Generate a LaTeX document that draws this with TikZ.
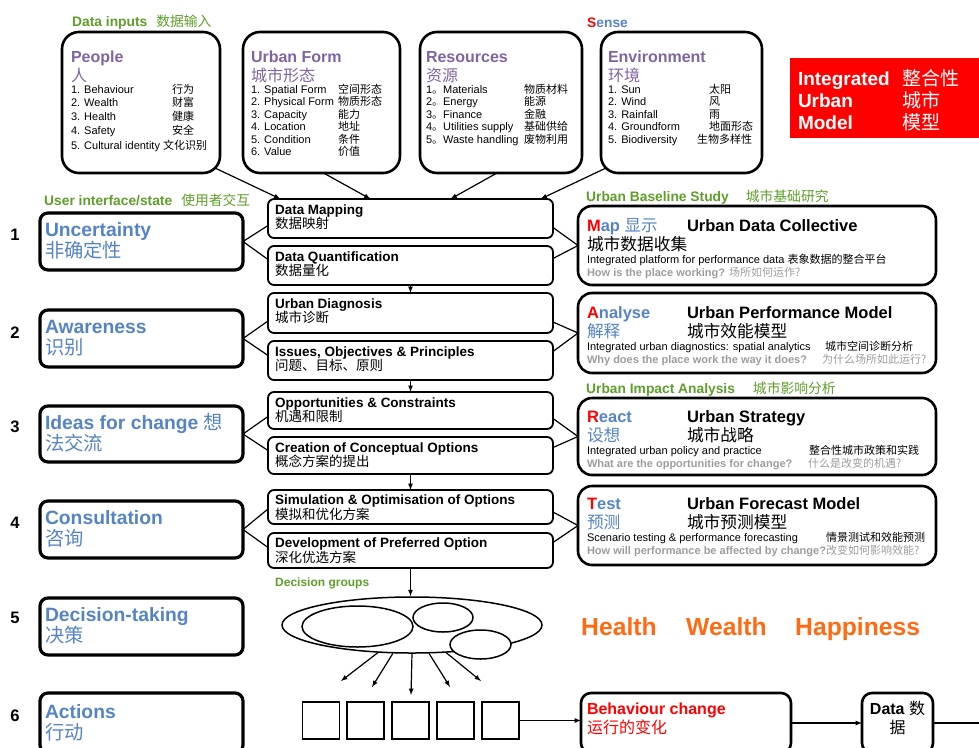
\documentclass[tikz,border=0pt]{standalone}
\usepackage{fontspec}
\setmainfont{Liberation Sans}
\newfontfamily\cjk{Noto Sans CJK SC}
\usetikzlibrary{shapes.geometric}
\definecolor{ttlpurple}{HTML}{8064A2}
\definecolor{uiblue}{HTML}{5584C4}
\definecolor{lblgreen}{HTML}{5E9E2A}
\definecolor{hotred}{HTML}{FF0000}
\definecolor{hhorange}{HTML}{FF6A13}
\definecolor{qgrey}{HTML}{9C9C9C}
\newcommand{\zh}[1]{{\cjk\mdseries #1}}
\newcommand{\fsz}[2]{\fontsize{#1}{#2}\selectfont}
\newcommand{\row}[3]{\makebox[#1][l]{#2}\zh{#3}}
\newcommand{\inbody}[3]{\parbox[c][#2][t]{#1}{\raggedright #3}}
\tikzset{
    inbox/.style={draw, rectangle, rounded corners=17pt, line width=2.6pt, anchor=north west,
    inner ysep=0pt, outer sep=0pt
  },
  uibox/.style={
    draw, rectangle, rounded corners=8pt, line width=3.2pt, anchor=north west, inner xsep=5pt,
    inner ysep=0pt, outer sep=0pt, minimum width=203pt
  },
  stepbox/.style={
    draw, rectangle, rounded corners=6pt, line width=1.8pt, anchor=north west, inner xsep=7pt,
    inner ysep=0pt, outer sep=0pt, minimum width=285pt
  },
  modbox/.style={
    draw, rectangle, rounded corners=14pt, line width=2.6pt, anchor=north west, inner xsep=9pt,
    inner ysep=0pt, outer sep=0pt, minimum width=358pt
  },
  endbox/.style={
    draw, rectangle, rounded corners=10pt, line width=2.6pt, anchor=north west, inner ysep=0pt,
    outer sep=0pt
  },
  tagbox/.style={
    fill=hotred, rectangle, anchor=north west, inner xsep=8pt, inner ysep=0pt, outer sep=0pt,
    minimum width=200pt
  },
  heading/.style={anchor=base west, inner sep=0pt, font=\fsz{13.8}{16}\bfseries, text=lblgreen},
  stepno/.style={anchor=base, inner sep=0pt, font=\fsz{16.6}{18}\bfseries},
  outcome/.style={anchor=base west, inner sep=0pt, font=\fsz{24.7}{28}\bfseries, text=hhorange},
  ring/.style={draw, ellipse, line width=1.5pt, inner sep=0pt},
  action/.style={draw, rectangle, line width=1.5pt, minimum size=37pt, inner sep=0pt},
  link/.style={line width=1.2pt},
  conn/.style={-latex, line width=1.2pt}
}

\begin{document}
\begin{tikzpicture}[x=1pt, y=-1pt]
   \useasboundingbox (0,0) rectangle (979,747);
   \clip (0,0) rectangle (979,747);

   \node[heading] (inputs) at (72,26.7) {Data inputs\hspace{9pt}\zh{数据输入}};
   \node[heading] (sense) at (587,27) {\color{hotred}S\color{uiblue}ense};

   \node[inbox, minimum width=158pt, inner xsep=9pt] (people) at (62,32) {\inbody{140pt}{141pt}{%
      \fsz{16}{18}\bfseries\color{ttlpurple}\rule{0pt}{30.7pt}People\\
      \fsz{16}{18.3}\zh{人}\\
      \fsz{11}{12.2}\mdseries\color{black}\row{101pt}{1. Behaviour}{行为}\\
      \fsz{11}{13.6}\row{101pt}{2. Wealth}{财富}\\
      \row{101pt}{3. Health}{健康}\\
      \row{101pt}{4. Safety}{安全}\\
      \fsz{11}{15.6}5. Cultural identity \zh{文化识别}}};
   \node[inbox, minimum width=157pt, inner xsep=8pt] (form) at (243,32) {\inbody{141pt}{141pt}{%
      \fsz{16}{18}\bfseries\color{ttlpurple}\rule{0pt}{30.7pt}Urban Form\\
      \fsz{16}{18.3}\zh{城市形态}\\
      \fsz{11}{12.2}\mdseries\color{black}\row{87pt}{1. Spatial Form}{空间形态}\\
      \fsz{11}{12.5}\row{87pt}{2. Physical Form}{物质形态}\\
      \row{87pt}{3. Capacity}{能力}\\
      \row{87pt}{4. Location}{地址}\\
      \row{87pt}{5. Condition}{条件}\\
      \row{87pt}{6. Value}{价值}}};
   \node[inbox, minimum width=162pt, inner xsep=6pt] (res) at (420,32) {\inbody{150pt}{141pt}{%
      \fsz{16}{18}\bfseries\color{ttlpurple}\rule{0pt}{30.7pt}Resources\\
      \fsz{16}{18.3}\zh{资源}\\
      \fsz{11}{12.2}\mdseries\color{black}\row{98pt}{1\zh{。}Materials}{物质材料}\\
      \fsz{11}{12.5}\row{98pt}{2\zh{。}Energy}{能源}\\
      \row{98pt}{3\zh{。}Finance}{金融}\\
      \row{98pt}{4\zh{。}Utilities supply}{基础供给}\\
      \row{98pt}{5\zh{。}Waste handling}{废物利用}}};
   \node[inbox, minimum width=161pt, inner xsep=7pt] (env) at (601,32) {\inbody{147pt}{141pt}{%
      \fsz{16}{18}\bfseries\color{ttlpurple}\rule{0pt}{30.7pt}Environment\\
      \fsz{16}{18.3}\zh{环境}\\
      \fsz{11}{12.2}\mdseries\color{black}\row{101pt}{1. Sun}{太阳}\\
      \fsz{11}{12.5}\row{101pt}{2. Wind}{风}\\
      \row{101pt}{3. Rainfall}{雨}\\
      \row{101pt}{4. Groundform}{地面形态}\\
      \row{89pt}{5. Biodiversity}{生物多样性}}};

   \node[tagbox] (ium) at (790,58) {\inbody{184pt}{80pt}{%
      \fsz{19}{22}\bfseries\color{white}\rule{0pt}{27pt}\row{104pt}{Integrated}{整合性}\\
      \row{104pt}{Urban}{城市}\\
      \row{104pt}{Model}{模型}}};

   \node[heading] (uilbl) at (44,205) {User interface/state\hspace{9pt}\zh{使用者交互}};
   \node[stepno] (n1) at (15,240) {1};
   \node[stepno] (n2) at (15,338) {2};
   \node[stepno] (n3) at (15,432) {3};
   \node[stepno] (n4) at (15,528) {4};
   \node[stepno] (n5) at (15,623) {5};
   \node[stepno] (n6) at (15,721) {6};

   \node[uibox] (unc) at (40,213) {\inbody{193pt}{57pt}{%
      \fsz{19.3}{21}\bfseries\color{uiblue}\rule{0pt}{23.5pt}Uncertainty\\ \zh{非确定性}}};
   \node[uibox] (awr) at (40,310) {\inbody{193pt}{57pt}{%
      \fsz{19.3}{21}\bfseries\color{uiblue}\rule{0pt}{23.5pt}Awareness\\ \zh{识别}}};
   \node[uibox] (idc) at (40,406) {\inbody{193pt}{56pt}{%
      \fsz{19.3}{21}\bfseries\color{uiblue}\rule{0pt}{23.5pt}Ideas for change \zh{想}\\ \zh{法交流}}};
   \node[uibox] (cns) at (40,501) {\inbody{193pt}{57pt}{%
      \fsz{19.3}{21}\bfseries\color{uiblue}\rule{0pt}{23.5pt}Consultation\\ \zh{咨询}}};
   \node[uibox] (dct) at (40,598) {\inbody{193pt}{57pt}{%
      \fsz{19.3}{21}\bfseries\color{uiblue}\rule{0pt}{23.5pt}Decision-taking\\ \zh{决策}}};
   \node[uibox] (act) at (40,693) {\inbody{193pt}{60pt}{%
      \fsz{19.3}{21}\bfseries\color{uiblue}\rule{0pt}{25pt}Actions\\ \zh{行动}}};

   \node[stepbox] (dm) at (268,199) {\inbody{271pt}{39pt}{%
      \fsz{13.5}{14.5}\bfseries\rule{0pt}{15pt}Data Mapping\\ \zh{数据映射}}};
   \node[stepbox] (dq) at (268,246) {\inbody{271pt}{39pt}{%
      \fsz{13.5}{14.5}\bfseries\rule{0pt}{15pt}Data Quantification\\ \zh{数据量化}}};
   \node[stepbox] (ud) at (268,293) {\inbody{271pt}{40pt}{%
      \fsz{13.5}{14.5}\bfseries\rule{0pt}{15pt}Urban Diagnosis\\ \zh{城市诊断}}};
   \node[stepbox] (iop) at (268,341) {\inbody{271pt}{39pt}{%
      \fsz{13.5}{14.5}\bfseries\rule{0pt}{15pt}Issues, Objectives \& Principles\\ \zh{问题、目标、原则}}};
   \node[stepbox] (opc) at (268,392) {\inbody{271pt}{37pt}{%
      \fsz{13.5}{14.5}\bfseries\rule{0pt}{15pt}Opportunities \& Constraints\\ \zh{机遇和限制}}};
   \node[stepbox] (cco) at (268,437) {\inbody{271pt}{37pt}{%
      \fsz{13.5}{14.5}\bfseries\rule{0pt}{15pt}Creation of Conceptual Options\\ \zh{概念方案的提出}}};
   \node[stepbox] (sim) at (268,490) {\inbody{271pt}{34pt}{%
      \fsz{13.5}{14}\bfseries\rule{0pt}{14pt}Simulation \& Optimisation of Options\\ \zh{模拟和优化方案}}};
   \node[stepbox] (dpo) at (268,533) {\inbody{271pt}{35pt}{%
      \fsz{13.5}{14}\bfseries\rule{0pt}{14pt}Development of Preferred Option\\ \zh{深化优选方案}}};

   \node[heading] (ubs) at (586,201) {Urban Baseline Study\hspace{17pt}\zh{城市基础研究}};
   \node[modbox] (map) at (578,206) {\inbody{340pt}{79pt}{%
      \fsz{16.5}{19}\bfseries\rule{0pt}{25pt}\makebox[100pt][l]{\color{hotred}M\color{uiblue}ap \zh{显示}}Urban Data Collective\\
      \fsz{16.7}{19}\zh{城市数据收集}\\
      \fsz{11}{13.5}\mdseries Integrated platform for performance data \zh{表象数据的整合平台}\\
      \fsz{11}{12.5}\bfseries\color{qgrey}How is the place working? \zh{场所如何运作?}}};
   \node[modbox] (ana) at (578,293) {\inbody{340pt}{80pt}{%
      \fsz{16.5}{19}\bfseries\rule{0pt}{25pt}\makebox[100pt][l]{\color{hotred}A\color{uiblue}nalyse}Urban Performance Model\\
      \fsz{16.7}{19}\makebox[100pt][l]{\color{uiblue}\zh{解释}}\zh{城市效能模型}\\
      \fsz{11}{13.5}\mdseries\row{238pt}{Integrated urban diagnostics: spatial analytics}{城市空间诊断分析}\\
      \fsz{11}{12.5}\bfseries\color{qgrey}\row{235pt}{Why does the place work the way it does?}{为什么场所如此运行?}}};
   \node[heading] (uia) at (586,393) {Urban Impact Analysis\hspace{18pt}\zh{城市影响分析}};
   \node[modbox] (rct) at (578,398) {\inbody{340pt}{77pt}{%
      \fsz{16.5}{19}\bfseries\rule{0pt}{24pt}\makebox[100pt][l]{\color{hotred}R\color{uiblue}eact}Urban Strategy\\
      \fsz{16.7}{19}\makebox[100pt][l]{\color{uiblue}\zh{设想}}\zh{城市战略}\\
      \fsz{11}{13.5}\mdseries\row{222pt}{Integrated urban policy and practice}{整合性城市政策和实践}\\
      \fsz{11}{12.5}\bfseries\color{qgrey}\row{221pt}{What are the opportunities for change?}{什么是改变的机遇?}}};
   \node[modbox] (tst) at (578,486) {\inbody{340pt}{79pt}{%
      \fsz{16.5}{19}\bfseries\rule{0pt}{23pt}\makebox[100pt][l]{\color{hotred}T\color{uiblue}est}Urban Forecast Model\\
      \fsz{16.7}{19}\makebox[100pt][l]{\color{uiblue}\zh{预测}}\zh{城市预测模型}\\
      \fsz{11}{13.5}\mdseries\row{239pt}{Scenario testing \& performance forecasting}{情景测试和效能预测}\\
      \fsz{11}{12.5}\bfseries\color{qgrey}\mbox{How will performance be affected by change?\zh{改变如何影响效能?}}}};

   \node[heading, font=\fsz{12}{14}\bfseries] (dglbl) at (275,586) {Decision groups};
   \node[ring, minimum width=260pt, minimum height=56pt] (grp) at (412,625) {};
   \node[ring, minimum width=111pt, minimum height=41pt] (grpa) at (357.5,626.5) {};
   \node[ring, minimum width=60pt, minimum height=29pt] (grpb) at (443,617.5) {};
   \node[ring, fill=white, minimum width=61pt, minimum height=29pt] (grpc) at (480.5,644.5) {};

   \node[action] (a1) at (321,720.5) {};
   \node[action] (a2) at (365.5,720.5) {};
   \node[action] (a3) at (410.5,720.5) {};
   \node[action] (a4) at (455.5,720.5) {};
   \node[action] (a5) at (500.5,720.5) {};

   \node[outcome] (hlth) at (581,635) {Health};
   \node[outcome] (wlth) at (686,635) {Wealth};
   \node[outcome] (hpns) at (795,635) {Happiness};

   \node[endbox, minimum width=210pt, inner xsep=6pt] (beh) at (581,693) {\inbody{198pt}{60pt}{%
      \fsz{16}{19}\bfseries\color{hotred}\rule{0pt}{21pt}Behaviour change\\ \zh{运行的变化}}};
   \node[endbox, minimum width=71pt, inner xsep=0pt] (dat) at (862,693) {\parbox[c][60pt][t]{71pt}{\centering
      \fsz{16}{19}\bfseries\rule{0pt}{21pt}Data \zh{数}\\ \zh{据}}};
   \coordinate (edge) at (979,723);

   \coordinate (d1) at (341,681);
   \coordinate (d2) at (372,687);
   \coordinate (d3) at (411,695);
   \coordinate (d4) at (450,687);
   \coordinate (d5) at (481,681);

   \draw[conn] ([xshift=-5pt,yshift=5pt]people.south east) -- ([xshift=-130pt]dm.north);
   \draw[conn] ([xshift=2pt]form.south) -- ([xshift=-40pt]dm.north);
   \draw[conn] ([xshift=-4pt]res.south) -- ([xshift=40pt]dm.north);
   \draw[conn] ([xshift=5pt,yshift=5pt]env.south west) -- ([xshift=130pt]dm.north);

   \draw[link] (unc.east) -- ([yshift=-7pt]dm.west);
   \draw[link] (unc.east) -- ([yshift=6pt]dq.west);
   \draw[link] (awr.east) -- ([yshift=-8pt]ud.west);
   \draw[link] (awr.east) -- ([yshift=5pt]iop.west);
   \draw[link] (idc.east) -- ([yshift=-6pt]opc.west);
   \draw[link] (idc.east) -- ([yshift=5pt]cco.west);
   \draw[link] (cns.east) -- ([yshift=-2pt]sim.west);
   \draw[link] (cns.east) -- ([yshift=3pt]dpo.west);

   \draw[link] ([yshift=-9pt]dm.east) -- (map.west);
   \draw[link] ([yshift=7pt]dq.east) -- (map.west);
   \draw[link] ([yshift=-9pt]ud.east) -- (ana.west);
   \draw[link] ([yshift=9pt]iop.east) -- (ana.west);
   \draw[link] ([yshift=-8pt]opc.east) -- (rct.west);
   \draw[link] ([yshift=8pt]cco.east) -- (rct.west);
   \draw[link] ([yshift=-5pt]sim.east) -- (tst.west);
   \draw[link] ([yshift=8pt]dpo.east) -- (tst.west);

   \draw[conn] (dq.south) -- (ud.north);
   \draw[conn] (iop.south) -- (opc.north);
   \draw[conn] (cco.south) -- (sim.north);
   \draw[conn] (dpo.south) -- (dpo.south |- grp.north);

   \draw[conn] (grp.219) -- (d1);
   \draw[conn] (grp.236) -- (d2);
   \draw[conn] (grp.270) -- (d3);
   \draw[conn] (grp.301) -- (d4);
   \draw[conn] (grp.321) -- (d5);

   \draw[conn] (a5.east) -- (a5.east -| beh.west);
   \draw[conn] (beh.east) -- (dat.west);
   \draw[link] (dat.east) -- (edge);
\end{tikzpicture}
\end{document}
